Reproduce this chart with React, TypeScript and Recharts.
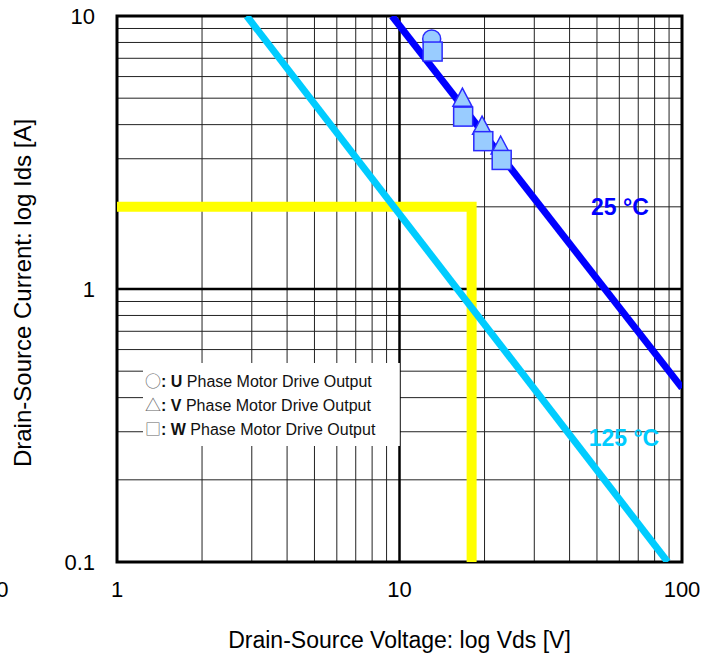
import React from "react";
import {
  ComposedChart,
  Line,
  Scatter,
  XAxis,
  YAxis,
  CartesianGrid,
  ReferenceLine,
  ReferenceArea,
  ReferenceDot,
  Label,
} from "recharts";

if (typeof document !== "undefined") {
  document.body.style.margin = "0";
}

const FONT = '"Liberation Sans", Arial, sans-serif';

// gridline positions (log decades)
const xTicks = [1, 2, 3, 4, 5, 6, 7, 8, 9, 10, 20, 30, 40, 50, 60, 70, 80, 90, 100];
const yTicks = [0.1, 0.2, 0.3, 0.4, 0.5, 0.6, 0.7, 0.8, 0.9, 1, 2, 3, 4, 5, 6, 7, 8, 9, 10];
const xLabels = [1, 10, 100];
const yLabels = [0.1, 1, 10];

// 25 °C limit line
const line25Vds = [9.41, 100];
const line25Ids = [10, 0.434];
// 125 °C limit line
const line125Vds = [2.88, 89];
const line125Ids = [10, 0.1];
// yellow operating box
const boxVds = [1, 18, 18];
const boxIds = [2, 2, 0.1];
// measured points
const uVds = [13.0];
const uIds = [8.24];
const vVds = [16.7, 19.6, 22.8];
const vIds = [5.0, 3.95, 3.34];
const wVds = [13.1, 16.8, 19.8, 23.0];
const wIds = [7.41, 4.28, 3.48, 2.97];

const zip = (xs: number[], ys: number[]) => xs.map((v, i) => ({ vds: v, ids: ys[i] }));

const line25 = zip(line25Vds, line25Ids);
const line125 = zip(line125Vds, line125Ids);
const box = zip(boxVds, boxIds);
const uPts = zip(uVds, uIds);
const vPts = zip(vVds, vIds);
const wPts = zip(wVds, wIds);

const MARK_FILL = "#99ccff";
const MARK_STROKE = "#2a2aff";

const CircleMark = (p: any) => (
  <circle cx={p.cx} cy={p.cy} r={9} fill={MARK_FILL} stroke={MARK_STROKE} strokeWidth={1.5} />
);
const TriMark = (p: any) => (
  <polygon
    points={`${p.cx},${p.cy - 10} ${p.cx + 9.5},${p.cy + 8} ${p.cx - 9.5},${p.cy + 8}`}
    fill={MARK_FILL}
    stroke={MARK_STROKE}
    strokeWidth={1.5}
  />
);
const SquareMark = (p: any) => (
  <rect x={p.cx - 9.5} y={p.cy - 9.5} width={19} height={19} fill={MARK_FILL} stroke={MARK_STROKE} strokeWidth={1.5} />
);

const tickStyle = { fontSize: 22, fill: "#000", fontFamily: FONT };
const fmtX = (v: number) => (xLabels.includes(v) ? String(v) : "");
const fmtY = (v: number) => (yLabels.includes(v) ? String(v) : "");

const legendRows = [
  { sym: "○", key: "U" },
  { sym: "△", key: "V" },
  { sym: "□", key: "W" },
];

export default function App() {
  return (
    <div style={{ position: "relative", width: 716, height: 660, fontFamily: FONT, overflow: "hidden" }}>
      <ComposedChart width={716} height={660} margin={{ top: 16, right: 34, left: 0, bottom: 0 }}>
        <CartesianGrid stroke="#222" strokeWidth={1} />
        <XAxis
          dataKey="vds"
          type="number"
          scale="log"
          domain={[1, 100]}
          allowDataOverflow
          ticks={xTicks}
          tickFormatter={fmtX}
          tickLine={false}
          axisLine={false}
          tickMargin={13}
          tick={tickStyle}
          height={98}
          interval={0}
        >
          <Label
            value="Drain-Source Voltage: log Vds [V]"
            position="insideBottom"
            offset={12}
            style={{ fontSize: 23, fill: "#000", fontFamily: FONT }}
          />
        </XAxis>
        <YAxis
          dataKey="ids"
          type="number"
          scale="log"
          domain={[0.1, 10]}
          allowDataOverflow
          ticks={yTicks}
          tickFormatter={fmtY}
          tickLine={false}
          axisLine={false}
          tickMargin={16}
          tick={tickStyle}
          width={117}
          interval={0}
        >
          <Label
            content={(props: any) => {
              const vb = props.viewBox || {};
              const cx = 22;
              const cy = (vb.y ?? 16) + (vb.height ?? 546) / 2 + 4;
              return (
                <text
                  x={cx}
                  y={cy}
                  transform={`rotate(-90 ${cx} ${cy})`}
                  textAnchor="middle"
                  dominantBaseline="central"
                  fontSize={24}
                  fill="#000"
                  fontFamily={FONT}
                >
                  Drain-Source Current: log Ids [A]
                </text>
              );
            }}
          />
        </YAxis>
        <ReferenceLine x={10} stroke="#000" strokeWidth={2.5} />
        <ReferenceLine y={1} stroke="#000" strokeWidth={2.5} />
        <Line
          data={box}
          dataKey="ids"
          stroke="#ffff00"
          strokeWidth={10}
          dot={false}
          isAnimationActive={false}
          strokeLinejoin="miter"
        />
        <Line
          data={line125}
          dataKey="ids"
          stroke="#00ccff"
          strokeWidth={7}
          dot={false}
          isAnimationActive={false}
        />
        <Line
          data={line25}
          dataKey="ids"
          stroke="#0000ff"
          strokeWidth={7}
          dot={false}
          isAnimationActive={false}
        />
        <Scatter data={uPts} dataKey="ids" shape={CircleMark} isAnimationActive={false} />
        <Scatter data={vPts} dataKey="ids" shape={TriMark} isAnimationActive={false} />
        <Scatter data={wPts} dataKey="ids" shape={SquareMark} isAnimationActive={false} />
        <ReferenceDot
          x={60.3}
          y={2}
          r={0}
          stroke="none"
          label={{ value: "25 °C", position: "center", fill: "#0000ff", fontSize: 23, fontWeight: "bold", fontFamily: FONT }}
        />
        <ReferenceDot
          x={62.3}
          y={0.285}
          r={0}
          stroke="none"
          label={{ value: "125 °C", position: "center", fill: "#00ccff", fontSize: 23, fontWeight: "bold", fontFamily: FONT }}
        />
        <ReferenceArea x1={1} x2={100} y1={0.1} y2={10} fill="none" stroke="#000" strokeWidth={3} />
      </ComposedChart>
      <div
        style={{
          position: "absolute",
          left: 143,
          top: 363,
          width: 257,
          height: 83,
          background: "#fff",
          borderRight: "1px solid #ccc",
          boxSizing: "border-box",
          paddingTop: 5,
          paddingLeft: 2,
          fontSize: 16,
          color: "#111",
        }}
      >
        {legendRows.map((r) => (
          <div key={r.key} style={{ height: 24, lineHeight: "24px", whiteSpace: "nowrap" }}>
            <span style={{ color: "#666", fontSize: 16, fontFamily: '"Noto Sans CJK JP", "DejaVu Sans", sans-serif' }}>
              {r.sym}
            </span>
            <b>: {r.key}</b> Phase Motor Drive Output
          </div>
        ))}
      </div>
      <div style={{ position: "absolute", left: -16, top: 577, fontSize: 22, color: "#000" }}>10</div>
    </div>
  );
}
